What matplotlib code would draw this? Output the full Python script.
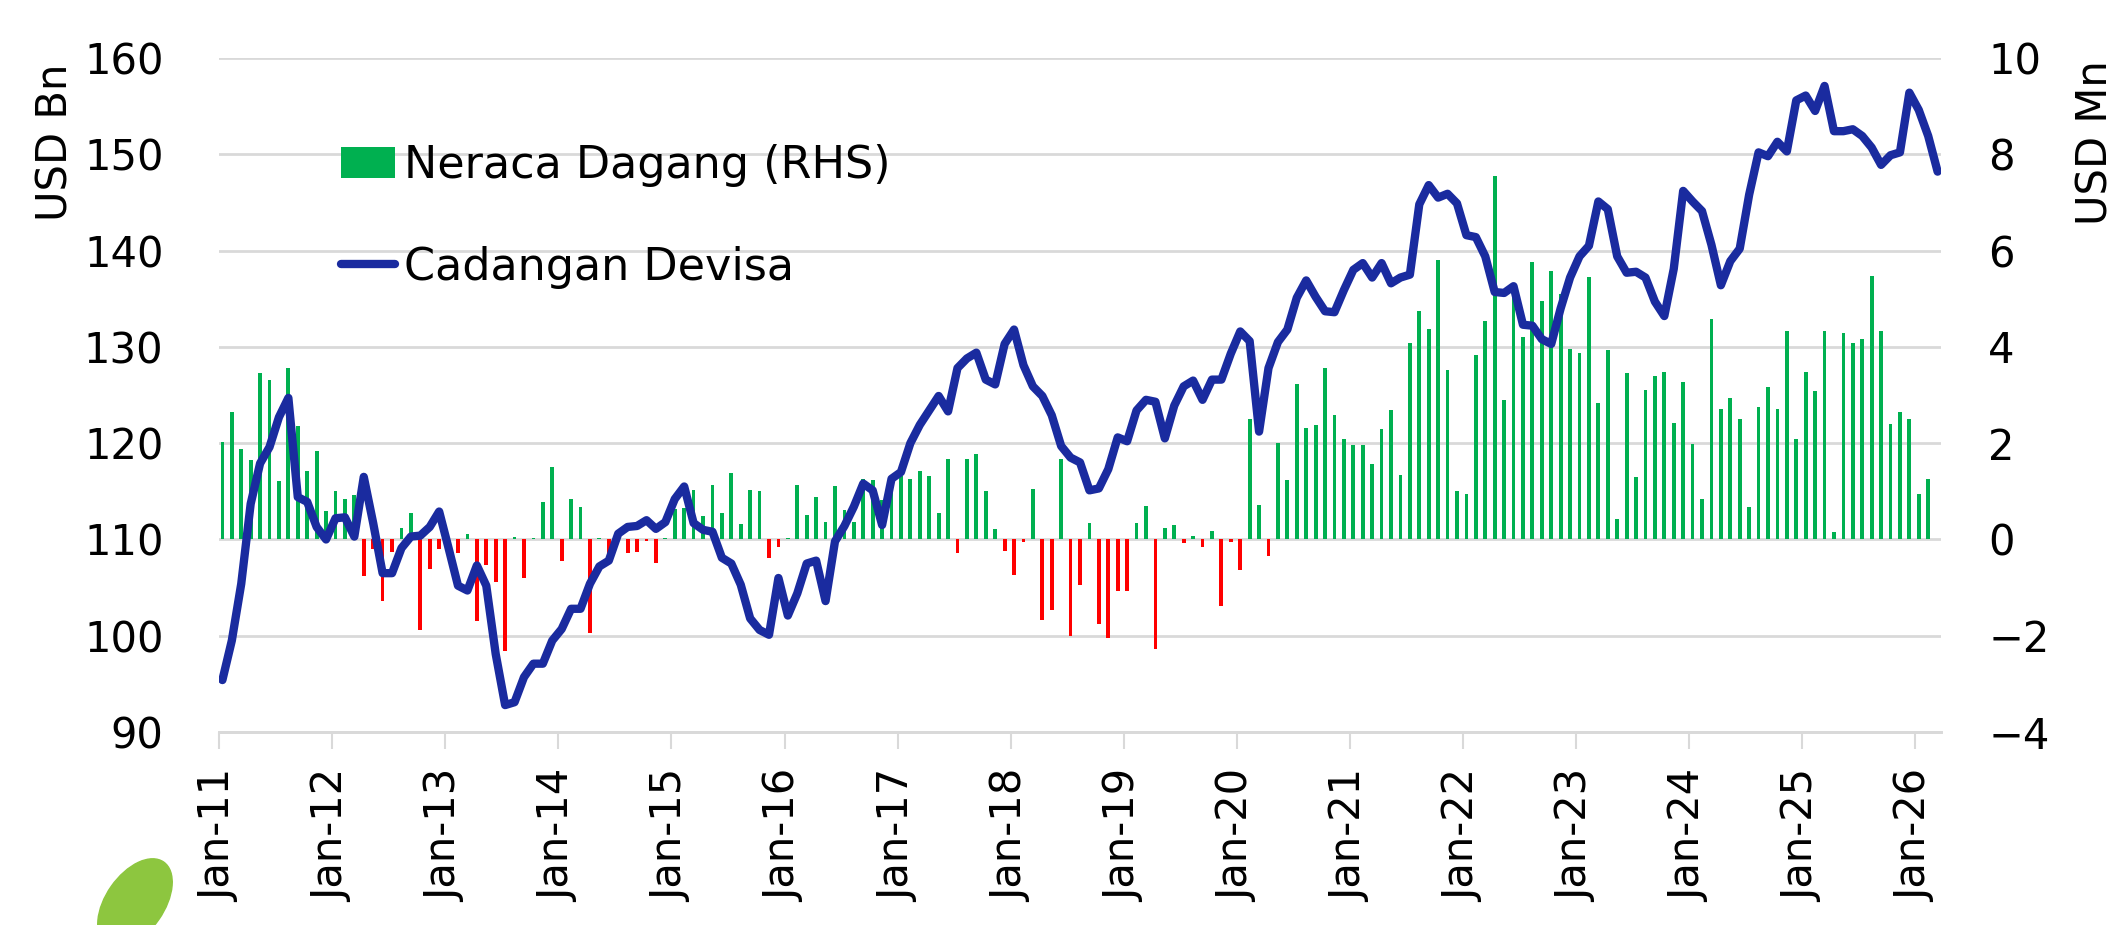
import matplotlib
matplotlib.use("Agg")
import matplotlib.pyplot as plt
from matplotlib.patches import Ellipse
from matplotlib.transforms import IdentityTransform

# Cadangan Devisa (USD Bn), monthly Jan-11 .. Mar-26
reserves = [
    95.4, 99.5, 105.4, 113.7, 117.9, 119.6, 122.7, 124.7, 114.4, 113.9, 111.3, 110.0,
    112.2, 112.3, 110.3, 116.5, 111.7, 106.5, 106.5, 109.1, 110.3, 110.4, 111.3, 112.9,
    109.1, 105.2, 104.7, 107.3, 105.2, 98.1, 92.8, 93.1, 95.7, 97.1, 97.1, 99.5,
    100.7, 102.8, 102.8, 105.4, 107.2, 107.8, 110.6, 111.3, 111.4, 112.0, 111.1, 111.8,
    114.2, 115.5, 111.7, 111.0, 110.8, 108.1, 107.5, 105.3, 101.8, 100.6, 100.1, 106.0,
    102.1, 104.4, 107.5, 107.8, 103.6, 109.8, 111.4, 113.4, 115.8, 115.1, 111.5, 116.3,
    117.0, 120.0, 121.9, 123.4, 124.9, 123.3, 127.8, 128.8, 129.4, 126.6, 126.1, 130.3,
    131.8, 128.1, 125.9, 124.9, 122.9, 119.7, 118.5, 118.0, 115.1, 115.3, 117.3, 120.6,
    120.2, 123.4, 124.5, 124.3, 120.5, 123.9, 125.9, 126.5, 124.5, 126.6, 126.6, 129.3,
    131.6, 130.6, 121.2, 127.8, 130.5, 131.8, 135.1, 136.9, 135.2, 133.7, 133.6, 135.9,
    138.0, 138.7, 137.2, 138.7, 136.6, 137.2, 137.5, 144.8, 146.8, 145.5, 145.9, 144.9,
    141.6, 141.4, 139.4, 135.7, 135.6, 136.3, 132.3, 132.2, 130.8, 130.3, 134.0, 137.2,
    139.4, 140.5, 145.1, 144.3, 139.4, 137.7, 137.8, 137.2, 134.7, 133.2, 138.1, 146.2,
    145.1, 144.1, 140.6, 136.4, 138.9, 140.2, 145.8, 150.2, 149.8, 151.3, 150.3, 155.6,
    156.1, 154.5, 157.1, 152.4, 152.4, 152.6, 151.9, 150.7, 148.9, 149.9, 150.2, 156.4,
    154.6, 151.9, 148.2,
]

# Neraca Dagang (USD Mn, RHS), monthly Jan-11 .. Feb-26
trade = [
    2.03, 2.65, 1.87, 1.66, 3.46, 3.31, 1.21, 3.56, 2.36, 1.42, 1.84, 0.60,
    1.01, 0.83, 0.92, -0.76, -0.19, -1.27, -0.26, 0.23, 0.54, -1.89, -0.61, -0.19,
    -0.05, -0.29, 0.12, -1.69, -0.53, -0.88, -2.32, 0.05, -0.80, 0.02, 0.78, 1.51,
    -0.44, 0.84, 0.67, -1.95, 0.04, -0.30, 0.02, -0.29, -0.27, -0.03, -0.48, 0.03,
    0.64, 0.66, 1.02, 0.48, 1.13, 0.54, 1.38, 0.32, 1.03, 1.01, -0.39, -0.15,
    0.03, 1.13, 0.50, 0.88, 0.37, 1.11, 0.62, 0.37, 1.26, 1.23, 0.81, 1.31,
    1.31, 1.26, 1.43, 1.31, 0.55, 1.67, -0.28, 1.67, 1.78, 1.01, 0.21, -0.25,
    -0.74, -0.05, 1.04, -1.67, -1.47, 1.67, -2.01, -0.95, 0.35, -1.76, -2.05, -1.07,
    -1.07, 0.34, 0.69, -2.28, 0.23, 0.30, -0.07, 0.08, -0.15, 0.18, -1.38, -0.05,
    -0.64, 2.51, 0.72, -0.34, 2.01, 1.24, 3.22, 2.31, 2.38, 3.57, 2.58, 2.09,
    1.97, 1.97, 1.56, 2.29, 2.68, 1.33, 4.09, 4.75, 4.38, 5.80, 3.51, 1.00,
    0.95, 3.84, 4.53, 7.55, 2.89, 5.10, 4.21, 5.77, 4.95, 5.58, 5.09, 3.96,
    3.88, 5.45, 2.83, 3.93, 0.42, 3.45, 1.29, 3.11, 3.40, 3.47, 2.41, 3.28,
    1.99, 0.83, 4.57, 2.70, 2.93, 2.51, 0.67, 2.76, 3.17, 2.70, 4.33, 2.09,
    3.48, 3.09, 4.33, 0.15, 4.29, 4.09, 4.17, 5.48, 4.33, 2.39, 2.65, 2.50,
    0.94, 1.26,
]

year_labels = ["Jan-11", "Jan-12", "Jan-13", "Jan-14", "Jan-15", "Jan-16", "Jan-17", "Jan-18",
               "Jan-19", "Jan-20", "Jan-21", "Jan-22", "Jan-23", "Jan-24", "Jan-25", "Jan-26"]

GREEN = "#00B050"
RED = "#FF0000"
NAVY = "#1A2B9F"
GRID = "#D9D9D9"

plt.rcParams["font.family"] = ["DejaVu Sans"]
FS = 30

fig = plt.figure(figsize=(21.21, 9.25), dpi=100)
ax = fig.add_axes([0.1033, 0.2086, 0.8118, 0.7287])
ax2 = ax.twinx()

# bars on the right axis, line on the left axis drawn above
bar_x = list(range(len(trade)))
bar_colors = [GREEN if v >= 0 else RED for v in trade]
bars = ax2.bar(bar_x, trade, width=0.4, color=bar_colors, zorder=2)

line_x = list(range(len(reserves)))
line, = ax.plot(line_x, reserves, color=NAVY, lw=6, solid_joinstyle="round",
                solid_capstyle="round", zorder=3)

ax.set_zorder(ax2.get_zorder() + 1)
ax.patch.set_visible(False)

ax.set_ylim(90, 160)
ax.set_yticks(range(90, 161, 10))
ax2.set_ylim(-4, 10)
ax2.set_yticks(range(-4, 11, 2))
ax2.yaxis.grid(True, color=GRID, lw=2)
ax2.set_axisbelow(True)

tick_pos = [12 * k - 0.35 for k in range(len(year_labels))]
ax.set_xlim(-0.35, 182.35)
ax.set_xticks(tick_pos)
ax.set_xticklabels(year_labels, rotation=90)

for a in (ax, ax2):
    for s in ("top", "left", "right"):
        a.spines[s].set_visible(False)
    a.spines["bottom"].set_color(GRID)
    a.spines["bottom"].set_linewidth(2)

ax.tick_params(axis="x", length=12, width=1.5, color=GRID, pad=15, labelsize=FS)
ax.tick_params(axis="y", length=0, pad=40, labelsize=FS)
ax2.tick_params(axis="y", length=0, pad=34, labelsize=FS)

fig.text(0.026, 0.846, "USD Bn", rotation=90, ha="center", va="center", fontsize=FS)
fig.text(0.988, 0.846, "USD Mn", rotation=90, ha="center", va="center", fontsize=FS)

ax.legend([bars, line], ["Neraca Dagang (RHS)", "Cadangan Devisa"],
          loc="upper left", bbox_to_anchor=(0.161, 0.844), bbox_transform=fig.transFigure,
          frameon=False, borderpad=0, borderaxespad=0, fontsize=32,
          handlelength=1.2, handletextpad=0.2, labelspacing=1.32)

# small leaf mark at the bottom-left (pixel coordinates)
fig.patches.append(Ellipse((135, 22), 58, 100, angle=-35, transform=IdentityTransform(),
                           color="#8DC63F", zorder=0))

fig.savefig("out.png", dpi=100)
